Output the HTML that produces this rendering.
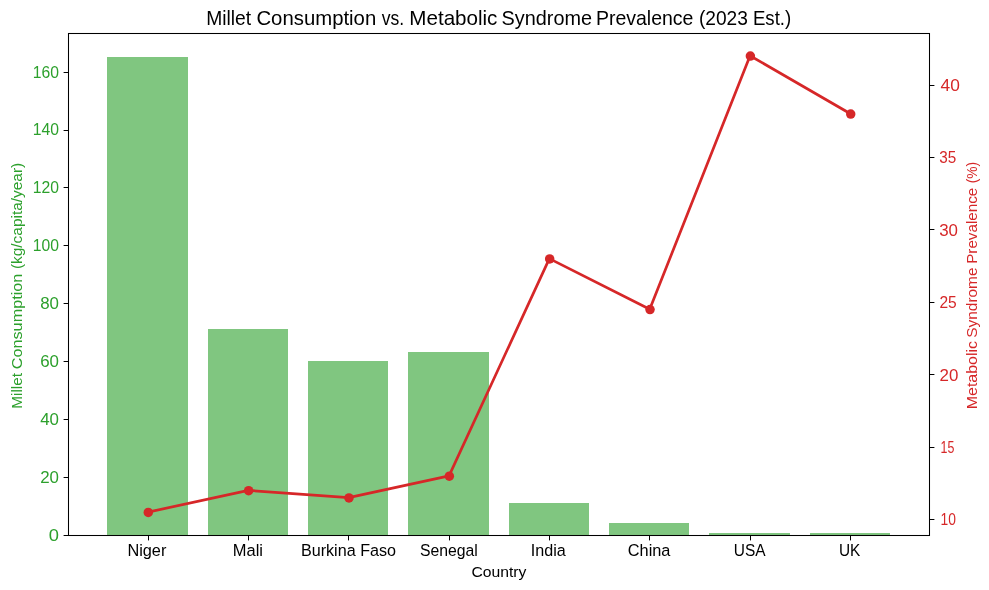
<!DOCTYPE html>
<html lang="en">
<head>
<meta charset="utf-8">
<title>Millet Consumption vs. Metabolic Syndrome Prevalence (2023 Est.)</title>
<style>
html,body{margin:0;padding:0;background:#fff;}
body{width:989px;height:590px;overflow:hidden;}
svg{display:block;}
svg text{font-family:"Liberation Sans",sans-serif;}
</style>
</head>
<body>
<svg width="989" height="590" viewBox="0 0 989 590">
<rect x="0" y="0" width="989" height="590" fill="#ffffff"/>
<g fill="#80c680">
<rect x="107" y="57" width="81" height="478"/>
<rect x="208" y="329" width="80" height="206"/>
<rect x="308" y="361" width="80" height="174"/>
<rect x="408" y="352" width="81" height="183"/>
<rect x="509" y="503" width="80" height="32"/>
<rect x="609" y="523" width="80" height="12"/>
<rect x="709" y="533" width="81" height="2"/>
<rect x="810" y="533" width="80" height="2"/>
</g>
<polyline points="147.98,512.13 248.33,490.40 348.68,497.64 449.03,475.91 549.37,258.60 649.72,309.30 750.07,55.77 850.42,113.72" fill="none" stroke="#d62728" stroke-width="2.7" stroke-linejoin="round" stroke-linecap="butt"/>
<g fill="#d62728">
<circle cx="148.28" cy="512.43" r="4.75"/>
<circle cx="248.63" cy="490.70" r="4.75"/>
<circle cx="348.98" cy="497.94" r="4.75"/>
<circle cx="449.33" cy="476.21" r="4.75"/>
<circle cx="549.67" cy="258.90" r="4.75"/>
<circle cx="650.02" cy="309.60" r="4.75"/>
<circle cx="750.37" cy="56.07" r="4.75"/>
<circle cx="850.72" cy="114.02" r="4.75"/>
</g>
<rect x="68.5" y="33.5" width="861" height="502" fill="none" stroke="#000" stroke-width="1.05"/>
<g stroke="#000" stroke-width="1.05">
<line x1="148.5" y1="536" x2="148.5" y2="540.4"/>
<line x1="248.5" y1="536" x2="248.5" y2="540.4"/>
<line x1="348.5" y1="536" x2="348.5" y2="540.4"/>
<line x1="449.5" y1="536" x2="449.5" y2="540.4"/>
<line x1="549.5" y1="536" x2="549.5" y2="540.4"/>
<line x1="649.5" y1="536" x2="649.5" y2="540.4"/>
<line x1="750.5" y1="536" x2="750.5" y2="540.4"/>
<line x1="850.5" y1="536" x2="850.5" y2="540.4"/>
</g>
<g font-size="16.67" fill="#000" text-anchor="middle">
<text x="146.88" y="555.8" textLength="39.0" lengthAdjust="spacingAndGlyphs">Niger</text>
<text x="247.93" y="555.8" textLength="30.2" lengthAdjust="spacingAndGlyphs">Mali</text>
<text x="348.48" y="555.8" textLength="95.1" lengthAdjust="spacingAndGlyphs">Burkina Faso</text>
<text x="448.83" y="555.8" textLength="57.9" lengthAdjust="spacingAndGlyphs">Senegal</text>
<text x="548.27" y="555.8" textLength="35.0" lengthAdjust="spacingAndGlyphs">India</text>
<text x="649.12" y="555.8" textLength="42.7" lengthAdjust="spacingAndGlyphs">China</text>
<text x="749.77" y="555.8" textLength="31.8" lengthAdjust="spacingAndGlyphs">USA</text>
<text x="849.62" y="555.8" textLength="21.4" lengthAdjust="spacingAndGlyphs">UK</text>
</g>
<text x="498.90" y="576.7" font-size="15.28" fill="#000" text-anchor="middle" textLength="55.0" lengthAdjust="spacingAndGlyphs">Country</text>
<g stroke="#000" stroke-width="1.05">
<line x1="63.6" y1="535.5" x2="68" y2="535.5"/>
<line x1="63.6" y1="477.5" x2="68" y2="477.5"/>
<line x1="63.6" y1="419.5" x2="68" y2="419.5"/>
<line x1="63.6" y1="361.5" x2="68" y2="361.5"/>
<line x1="63.6" y1="303.5" x2="68" y2="303.5"/>
<line x1="63.6" y1="245.5" x2="68" y2="245.5"/>
<line x1="63.6" y1="187.5" x2="68" y2="187.5"/>
<line x1="63.6" y1="130.5" x2="68" y2="130.5"/>
<line x1="63.6" y1="72.5" x2="68" y2="72.5"/>
</g>
<g font-size="16.4" fill="#2ca02c" text-anchor="end">
<text x="59.00" y="541.15" textLength="10.2" lengthAdjust="spacingAndGlyphs">0</text>
<text x="59.00" y="483.20" textLength="18.8" lengthAdjust="spacingAndGlyphs">20</text>
<text x="59.00" y="425.25" textLength="18.8" lengthAdjust="spacingAndGlyphs">40</text>
<text x="59.00" y="367.30" textLength="18.8" lengthAdjust="spacingAndGlyphs">60</text>
<text x="59.00" y="309.35" textLength="18.8" lengthAdjust="spacingAndGlyphs">80</text>
<text x="59.00" y="251.40" textLength="26.2" lengthAdjust="spacingAndGlyphs">100</text>
<text x="59.00" y="193.44" textLength="26.2" lengthAdjust="spacingAndGlyphs">120</text>
<text x="59.00" y="135.49" textLength="26.2" lengthAdjust="spacingAndGlyphs">140</text>
<text x="59.00" y="77.54" textLength="26.2" lengthAdjust="spacingAndGlyphs">160</text>
</g>
<text transform="translate(21.80,0) rotate(-90)" font-size="15.28" fill="#2ca02c" text-anchor="start"><tspan x="-408.66" textLength="35.66" lengthAdjust="spacingAndGlyphs">Millet</tspan> <tspan x="-369.22" textLength="95.52" lengthAdjust="spacingAndGlyphs">Consumption</tspan> <tspan x="-269.08" textLength="106.24" lengthAdjust="spacingAndGlyphs">(kg/capita/year)</tspan></text>
<g stroke="#000" stroke-width="1.05">
<line x1="930" y1="519.5" x2="934.4" y2="519.5"/>
<line x1="930" y1="447.5" x2="934.4" y2="447.5"/>
<line x1="930" y1="374.5" x2="934.4" y2="374.5"/>
<line x1="930" y1="302.5" x2="934.4" y2="302.5"/>
<line x1="930" y1="229.5" x2="934.4" y2="229.5"/>
<line x1="930" y1="157.5" x2="934.4" y2="157.5"/>
<line x1="930" y1="85.5" x2="934.4" y2="85.5"/>
</g>
<g font-size="16.4" fill="#d62728" text-anchor="start">
<text x="940.60" y="525.48" textLength="15.4" lengthAdjust="spacingAndGlyphs">10</text>
<text x="940.60" y="453.04" textLength="13.8" lengthAdjust="spacingAndGlyphs">15</text>
<text x="939.60" y="380.60" textLength="18.8" lengthAdjust="spacingAndGlyphs">20</text>
<text x="939.40" y="308.16" textLength="17.3" lengthAdjust="spacingAndGlyphs">25</text>
<text x="939.20" y="235.72" textLength="18.8" lengthAdjust="spacingAndGlyphs">30</text>
<text x="939.20" y="163.28" textLength="17.0" lengthAdjust="spacingAndGlyphs">35</text>
<text x="940.50" y="90.84" textLength="19.3" lengthAdjust="spacingAndGlyphs">40</text>
</g>
<text transform="translate(976.90,0) rotate(-90)" font-size="15.28" fill="#d62728" text-anchor="start"><tspan x="-409.30" textLength="68.38" lengthAdjust="spacingAndGlyphs">Metabolic</tspan> <tspan x="-337.66" textLength="70.10" lengthAdjust="spacingAndGlyphs">Syndrome</tspan> <tspan x="-263.80" textLength="76.02" lengthAdjust="spacingAndGlyphs">Prevalence</tspan> <tspan x="-183.30" textLength="21.46" lengthAdjust="spacingAndGlyphs">(%)</tspan></text>
<text y="24.9" font-size="19.44" fill="#000" text-anchor="start"><tspan x="206.22" textLength="44.98" lengthAdjust="spacingAndGlyphs">Millet</tspan> <tspan x="256.44" textLength="119.78" lengthAdjust="spacingAndGlyphs">Consumption</tspan> <tspan x="381.80" textLength="22.44" lengthAdjust="spacingAndGlyphs">vs.</tspan> <tspan x="409.32" textLength="88.12" lengthAdjust="spacingAndGlyphs">Metabolic</tspan> <tspan x="501.56" textLength="90.44" lengthAdjust="spacingAndGlyphs">Syndrome</tspan> <tspan x="595.98" textLength="97.46" lengthAdjust="spacingAndGlyphs">Prevalence</tspan> <tspan x="698.88" textLength="49.00" lengthAdjust="spacingAndGlyphs">(2023</tspan> <tspan x="752.88" textLength="38.34" lengthAdjust="spacingAndGlyphs">Est.)</tspan></text>
</svg>
</body>
</html>
